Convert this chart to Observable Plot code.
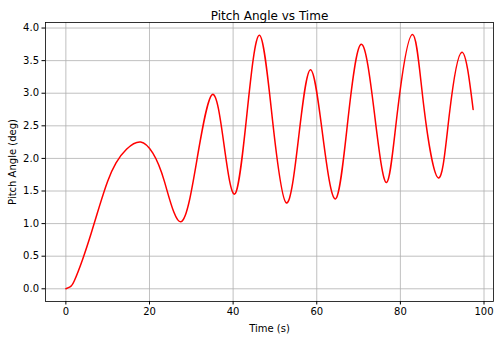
<!DOCTYPE html>
<html>
<head>
<meta charset="utf-8">
<script src="https://cdn.jsdelivr.net/npm/d3@7"></script>
<script src="https://cdn.jsdelivr.net/npm/@observablehq/plot@0.6"></script>
<style>
  html, body { margin: 0; padding: 0; background: #fff; }
  svg { font-family: "DejaVu Sans", sans-serif; display: block; }
</style>
</head>
<body>
<div id="chart"></div>
<script>
const titleText = "Pitch Angle vs Time";
const xLabel = "Time (s)";
const yLabel = "Pitch Angle (deg)";
const xTicks = [0, 20, 40, 60, 80, 100];
const yTicks = [0.0, 0.5, 1.0, 1.5, 2.0, 2.5, 3.0, 3.5, 4.0];

const time = [0, 1, 2, 4, 6, 8, 10, 12, 14.5, 17.9, 20.8, 23.6, 27.6, 31.4, 35.0, 37.8, 40.5, 43.3, 46.3, 49.4, 52.7, 55.7, 58.5, 61.4, 64.5, 67.4, 70.6, 73.8, 76.7, 79.4, 82.9, 85.6, 89.1, 91.7, 94.7, 97.4];
const pitch = [0, 0.03, 0.12, 0.45, 0.84, 1.26, 1.65, 1.93, 2.14, 2.25, 2.08, 1.64, 1.03, 2.00, 2.98, 2.22, 1.46, 2.68, 3.89, 2.60, 1.32, 2.34, 3.36, 2.37, 1.38, 2.56, 3.75, 2.69, 1.63, 2.77, 3.90, 2.80, 1.70, 2.67, 3.63, 2.75];

const data = time.map((t, i) => ({t, v: pitch[i]}));

const chart = Plot.plot({
  width: 500,
  height: 340,
  marginLeft: 45,
  marginRight: 7,
  marginTop: 22,
  marginBottom: 39,
  style: {fontFamily: "DejaVu Sans, sans-serif", fontSize: "10px", color: "#000", background: "#fff"},
  x: {domain: [-4.87, 102.27]},
  y: {domain: [-0.195, 4.085]},
  marks: [
    Plot.gridX(xTicks, {stroke: "#b0b0b0", strokeOpacity: 1, strokeWidth: 0.8}),
    Plot.gridY(yTicks, {stroke: "#b0b0b0", strokeOpacity: 1, strokeWidth: 0.8}),
    Plot.line(data, {x: "t", y: "v", stroke: "red", strokeWidth: 1.5, curve: "natural"}),
    Plot.frame({stroke: "#000", strokeWidth: 0.8}),
    Plot.axisX(xTicks, {tickSize: 3.5, tickPadding: 3, fontSize: 10, label: xLabel, labelAnchor: "center", labelArrow: "none", labelOffset: 30, tickFormat: d => String(d)}),
    Plot.axisY(yTicks, {tickSize: 3.5, tickPadding: 3, fontSize: 10, label: yLabel, labelAnchor: "center", labelArrow: "none", labelOffset: 37, tickFormat: d => d.toFixed(1)}),
    Plot.text([titleText], {frameAnchor: "top", dy: -11, fontSize: 12, text: d => d})
  ]
});
document.getElementById("chart").appendChild(chart);
</script>
</body>
</html>
